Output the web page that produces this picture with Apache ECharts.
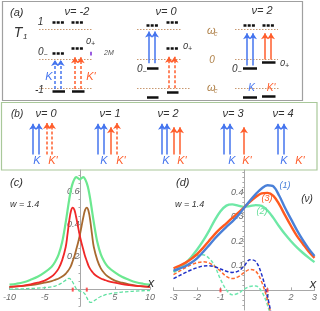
<!DOCTYPE html>
<html><head><meta charset="utf-8">
<script src="https://cdn.jsdelivr.net/npm/echarts@6/dist/echarts.min.js"></script>
<style>html,body{margin:0;padding:0;background:#fff}#c{width:320px;height:311px}</style>
</head><body><div id="c"></div>
<script>
// ---------- panel (c) data ----------
const cX = [-10,-9,-8,-7,-6,-5,-4,-3.5,-3,-2.5,-2,-1.75,-1.5,-1.25,-1,-0.75,-0.5,-0.25,0,0.25,0.5,0.75,1,1.25,1.5,1.75,2,2.5,3,3.5,4,5,6,7,8,9,10];
const cRed = [0.017,0.02,0.025,0.032,0.042,0.055,0.08,0.1,0.13,0.18,0.26,0.335,0.42,0.48,0.5,0.485,0.44,0.385,0.33,0.285,0.245,0.205,0.175,0.145,0.125,0.11,0.097,0.08,0.068,0.06,0.052,0.042,0.034,0.028,0.023,0.02,0.017];
const cBrown = [0.017,0.02,0.023,0.028,0.034,0.042,0.052,0.06,0.068,0.08,0.097,0.11,0.125,0.145,0.175,0.205,0.245,0.285,0.33,0.385,0.44,0.485,0.5,0.48,0.42,0.335,0.26,0.18,0.13,0.1,0.08,0.055,0.042,0.032,0.025,0.02,0.017];
const cGreen = [0.03,0.036,0.045,0.06,0.078,0.105,0.14,0.17,0.215,0.29,0.41,0.48,0.55,0.61,0.65,0.675,0.686,0.68,0.672,0.68,0.686,0.675,0.65,0.61,0.55,0.48,0.41,0.29,0.215,0.17,0.14,0.105,0.078,0.06,0.045,0.036,0.03];
const cGreenDash = [0.003,0.004,0.005,0.007,0.009,0.012,0.017,0.022,0.03,0.042,0.058,0.066,0.068,0.06,0.045,0.025,0.006,-0.004,-0.009,-0.012,-0.016,-0.028,-0.048,-0.068,-0.078,-0.077,-0.07,-0.054,-0.042,-0.034,-0.028,-0.02,-0.015,-0.012,-0.009,-0.007,-0.006];
const cXTicks = [-10,-5,5,10];
const cYTicks = [0.2,0.4,0.6];

// ---------- panel (d) data ----------
const dX = [-3,-2.75,-2.5,-2.25,-2,-1.75,-1.5,-1.25,-1,-0.75,-0.5,-0.25,0,0.25,0.5,0.75,1,1.25,1.5,1.75,2,2.25,2.5,2.75,3];
const dBlue1 = [0.08,0.088,0.098,0.112,0.13,0.155,0.182,0.21,0.235,0.258,0.28,0.305,0.335,0.365,0.392,0.415,0.428,0.423,0.385,0.335,0.29,0.245,0.205,0.17,0.14];
const dOrange3 = [0.09,0.1,0.112,0.128,0.147,0.172,0.2,0.228,0.252,0.273,0.295,0.315,0.337,0.36,0.38,0.395,0.397,0.385,0.35,0.305,0.262,0.222,0.19,0.158,0.132];
const dGreen2 = [0.075,0.09,0.11,0.135,0.165,0.2,0.24,0.285,0.322,0.345,0.35,0.345,0.34,0.343,0.347,0.344,0.325,0.295,0.26,0.228,0.2,0.175,0.153,0.133,0.115];
const dDashX = [-3,-2.75,-2.5,-2.25,-2,-1.75,-1.5,-1.25,-1,-0.75,-0.5,-0.25,0,0.25,0.5,0.75,1,1.25];
const dNavyDash = [0.048,0.06,0.072,0.083,0.092,0.099,0.1,0.096,0.087,0.078,0.073,0.078,0.098,0.125,0.118,0.065,-0.025,-0.14];
const dOrangeDash = [0.064,0.078,0.092,0.104,0.112,0.116,0.112,0.098,0.078,0.057,0.048,0.055,0.072,0.085,0.078,0.035,-0.04,-0.14];
const dGreenDash = [0.078,0.096,0.113,0.128,0.14,0.145,0.132,0.1,0.045,0.002,-0.018,-0.012,0.004,0.016,0.018,-0.005,-0.06,-0.15];
const dXTicks = [-3,-2,-1,1,2,3];
const dYTicks = [0.1,0.2,0.3,0.4];
const markX = [-1, 1];

// ---------- panel (a) schematic: levels in units of omega_c ----------
const aRefLines = [[39,92,1],[39,92,0],[39,92,-1],[137,182,1],[137,182,0],[137,190,-1],[235,278,1],[235,278,0],[235,280,-1]];
const aDotLevels = [[52.5,63.9,1.23],[71.5,82.9,1.23],[52.5,63.9,0.19],[71.5,82.9,0.35],[146.5,157.9,1.16],[166.5,177.9,1.23],[166.5,177.9,0.35],[243.5,254.9,1.13],[262.5,273.9,1.13]];
const aBars = [[52.5,65,-1.08],[72,84.5,-1.08],[147,158.5,-0.32],[147,158.5,-1.29],[167,178.5,-1.13],[243,257,-0.32],[262,275.5,-0.12],[243,257,-1.29],[262,275.5,-1.26]];
const aArrowsBlueDash = [[55,-1.02,-0.03],[60.7,-1.02,-0.03]];
const aArrowsOrangeDash = [[75,-1.02,0.06],[80.7,-1.02,0.06],[169,-0.99,0.08],[174.5,-0.99,0.08]];
const aArrowsBlue = [[149,-0.14,0.93],[155,-0.14,0.93],[247,-0.22,0.87],[253,-0.22,0.87]];
const aArrowsOrange = [[265,-0.02,0.87],[271,-0.02,0.87]];
const aGapMark = [[91,0.25,0.12]];

// ---------- panel (b) schematic: arrow heights ----------
const bBlue = [[33,0,1],[39,0,1],[98,0,1],[104,0,1],[162,0,1],[167,0,1],[224,0,1],[230,0,1],[278,0,1],[284,0,1]];
const bOrange = [[111,0,0.88],[174,0,0.88],[180,0,0.88],[244,0,0.88]];
const bOrangeDash = [[47,0,1.02],[52,0,1.02],[117,0,1.02]];

const FONT = '"Liberation Sans", "DejaVu Sans", sans-serif';
const BLUE = '#4474ee', ORANGE = '#ff5e2c', BROWN_REF = '#c89870', WC = '#b0824a';

const pair = (xs, ys) => xs.map((x, i) => [x, ys[i]]);
const hLines = (arr) => arr.map(r => ({coords: [[r[0], r[2]], [r[1], r[2]]]}));
const vLines = (arr) => arr.map(r => ({coords: [[r[0], r[1]], [r[0], r[2]]]}));

// grids of the two plots; axes cross at the origin via offsets
const GC = {left:8, top:170, width:142, height:136, xmin:-10, xmax:10, ymin:-0.1, ymax:0.73};
const GD = {left:173.5, top:170, width:141.8, height:140, xmin:-3, xmax:3, ymin:-0.08, ymax:0.49};
const zeroOffX = g => -(g.height * (0 - g.ymin) / (g.ymax - g.ymin));
const zeroOffY = g => -(g.width * (0 - g.xmin) / (g.xmax - g.xmin));

function plotX(grid, g, ticks) {
  return {type:'value', gridIndex:grid, min:g.xmin, max:g.xmax, position:'bottom', offset:zeroOffX(g),
    axisLine:{onZero:false, lineStyle:{color:'#a8a8a8', width:1}},
    axisTick:{show:true, inside:true, length:3, customValues:ticks, lineStyle:{color:'#a8a8a8'}},
    axisLabel:{customValues:ticks, color:'#6a6a6a', fontSize:9, fontStyle:'italic', fontFamily:FONT, margin:3},
    splitLine:{show:false}};
}
function plotY(grid, g, ticks, minor) {
  return {type:'value', gridIndex:grid, min:g.ymin, max:g.ymax, position:'left', offset:zeroOffY(g),
    axisLine:{onZero:false, lineStyle:{color:'#a8a8a8', width:1}},
    axisTick:{show:true, inside:false, length:2, customValues:minor, lineStyle:{color:'#a8a8a8'}},
    axisLabel:{customValues:ticks, color:'#6a6a6a', fontSize:9, fontStyle:'italic', fontFamily:FONT, margin:1, formatter: v => String(v)},
    splitLine:{show:false}};
}
const hidden = (grid, min, max) => ({type:'value', gridIndex:grid, min, max, show:false});

const cMinor = [], dMinor = [];
for (let i = -2; i <= 14; i++) if (i !== 0) cMinor.push(+(i * 0.05).toFixed(2));
for (let i = -3; i <= 24; i++) if (i !== 0) dMinor.push(+(i * 0.02).toFixed(2));

function line(name, xi, xs, ys, color, width, dashed) {
  return {type:'line', name, xAxisIndex:xi, yAxisIndex:xi, data:pair(xs, ys), smooth:0.35,
    showSymbol:false, symbol:'none', lineStyle:{color, width, type: dashed ? [3.5, 2] : 'solid'}, z: dashed ? 2 : 3};
}
function linesSeries(ai, data, color, width, type, arrow) {
  return {type:'lines', coordinateSystem:'cartesian2d', xAxisIndex:ai, yAxisIndex:ai, data,
    symbol: arrow ? ['none','arrow'] : 'none', symbolSize: arrow ? 6 : 0,
    lineStyle:{color, width, type, cap:'butt', opacity:1}, z:5, silent:true};
}

function T(s, x, y, size, color, align) {
  return {type:'text', x, y, silent:true, z:10,
    style:{text:s, fill:color || '#333', font:'italic ' + size + 'px ' + FONT, align:align || 'left', verticalAlign:'middle'}};
}

const graphics = [
  {type:'rect', shape:{x:2.5, y:1.5, width:300, height:99}, style:{fill:'none', stroke:'#a0a0a0', lineWidth:1.2}, silent:true},
  {type:'rect', shape:{x:1.5, y:102.5, width:315.5, height:67.5}, style:{fill:'none', stroke:'#a9c89a', lineWidth:1.2}, silent:true},
  // panel (a)
  T('(a)', 10, 13, 11), T('\u03bd= -2', 77, 12, 11, '#333', 'center'), T('\u03bd= 0', 166, 12, 11, '#333', 'center'), T('\u03bd= 2', 262, 11, 11, '#333', 'center'),
  T('1', 40.5, 22, 10, '#333', 'center'), T('T', 18, 33, 14, '#333', 'center'), T('1', 23, 37, 8),
  T('0', 86, 41, 9), T('+', 91, 44, 7), T('2M', 104, 53, 7, '#555'),
  T('0', 38, 52, 10), T('\u2212', 43.5, 55, 7),
  T('K', 49, 77, 11, BLUE, 'center'), T("K'", 91, 77, 11, ORANGE, 'center'), T('-1', 35, 90, 10),
  T('0', 137, 69, 10), T('\u2212', 142.5, 72, 7), T('0', 183, 46, 9), T('+', 188, 49, 7),
  T('\u03c9', 207, 31, 11, WC), T('c', 214, 34, 7, WC), T('0', 212, 60, 10, WC, 'center'), T('\u03c9', 207, 88, 11, WC), T('c', 214, 91, 7, WC),
  T('0', 232, 69, 10), T('\u2212', 237.5, 72, 7), T('0', 280, 63, 9), T('+', 285, 66, 7),
  T('K', 251.5, 88, 10, BLUE, 'center'), T("K'", 271, 88, 10, ORANGE, 'center'),
  // panel (b)
  T('(b)', 11, 114, 10), T('\u03bd= 0', 46, 114, 11, '#333', 'center'), T('\u03bd= 1', 110, 114, 11, '#333', 'center'),
  T('\u03bd= 2', 168, 114, 11, '#333', 'center'), T('\u03bd= 3', 233, 114, 11, '#333', 'center'), T('\u03bd= 4', 283, 114, 11, '#333', 'center'),
  T('K', 37, 161, 11, BLUE, 'center'), T("K'", 53, 161, 11, ORANGE, 'center'),
  T('K', 104, 161, 11, BLUE, 'center'), T("K'", 121, 161, 11, ORANGE, 'center'),
  T('K', 166, 161, 11, BLUE, 'center'), T("K'", 182, 161, 11, ORANGE, 'center'),
  T('K', 232, 161, 11, BLUE, 'center'), T("K'", 247, 161, 11, ORANGE, 'center'),
  T('K', 284, 161, 11, BLUE, 'center'), T("K'", 300, 161, 11, ORANGE, 'center'),
  // panel (c)
  T('(c)', 10, 183, 11), T('w = 1.4', 10, 204, 9), T('x', 151, 283, 13, '#333', 'center'),
  // panel (d)
  T('(d)', 176, 183, 11), T('w = 1.4', 175, 204, 9), T('(\u03bd)', 307, 199, 10, '#333', 'center'),
  T('(1)', 285, 185, 9, '#4a80d8', 'center'), T('(3)', 267, 198, 9, '#ff5a1f', 'center'), T('(2)', 262, 211, 9, '#66dd99', 'center'),
  T('x', 313, 284, 13, '#333', 'center')
];

const option = {
  animation:false,
  backgroundColor:'#fff',
  grid:[
    {left:GC.left, top:GC.top, width:GC.width, height:GC.height},
    {left:GD.left, top:GD.top, width:GD.width, height:GD.height},
    {left:0, top:-1, width:320, height:119},
    {left:0, top:102, width:320, height:68}
  ],
  xAxis:[plotX(0,GC,cXTicks), plotX(1,GD,dXTicks), hidden(2,0,320), hidden(3,0,320)],
  yAxis:[plotY(0,GC,cYTicks,cMinor), plotY(1,GD,dYTicks,dMinor), hidden(2,-2,2), hidden(3,-0.5,1.7)],
  series:[
    line('c-green', 0, cX, cGreen, '#6ce890', 2.2, false),
    line('c-brown', 0, cX, cBrown, '#a86a30', 1.8, false),
    line('c-red', 0, cX, cRed, '#f02828', 1.8, false),
    line('c-green-dash', 0, cX, cGreenDash, '#5fe0a0', 1.3, true),
    {type:'scatter', xAxisIndex:0, yAxisIndex:0, data:markX.map(x => [x, 0]), symbol:'rect', symbolSize:[2,4], itemStyle:{color:'#ff3030'}, z:6, silent:true},
    line('d-green', 1, dX, dGreen2, '#6ee8a6', 2.4, false),
    line('d-orange', 1, dX, dOrange3, '#ff5a1f', 2.4, false),
    line('d-blue', 1, dX, dBlue1, '#4a80d8', 2.4, false),
    line('d-green-dash', 1, dDashX, dGreenDash, '#70e8b0', 1.5, true),
    line('d-orange-dash', 1, dDashX, dOrangeDash, '#ff6a30', 1.5, true),
    line('d-navy-dash', 1, dDashX, dNavyDash, '#2030c8', 1.5, true),
    {type:'scatter', xAxisIndex:1, yAxisIndex:1, data:markX.map(x => [x, 0]), symbol:'rect', symbolSize:[2,4], itemStyle:{color:'#ff3030'}, z:6, silent:true},
    // panel (a)
    linesSeries(2, hLines(aRefLines), BROWN_REF, 1, [1.5,1.5], false),
    linesSeries(2, hLines(aDotLevels), '#111', 2.7, [3,1.2], false),
    linesSeries(2, hLines(aBars), '#111', 2.7, 'solid', false),
    linesSeries(2, vLines(aArrowsBlueDash), BLUE, 1.5, [3,2], true),
    linesSeries(2, vLines(aArrowsOrangeDash), ORANGE, 1.5, [3,2], true),
    linesSeries(2, vLines(aArrowsBlue), BLUE, 1.5, 'solid', true),
    linesSeries(2, vLines(aArrowsOrange), ORANGE, 1.5, 'solid', true),
    linesSeries(2, vLines(aGapMark), '#9b5de0', 2, 'solid', false),
    // panel (b)
    linesSeries(3, vLines(bBlue), BLUE, 1.5, 'solid', true),
    linesSeries(3, vLines(bOrange), ORANGE, 1.5, 'solid', true),
    linesSeries(3, vLines(bOrangeDash), ORANGE, 1.5, [3,2], true)
  ],
  graphic: graphics
};
const chart = echarts.init(document.getElementById('c'), null, {renderer:'canvas', width:320, height:311});
chart.setOption(option);
</script></body></html>
